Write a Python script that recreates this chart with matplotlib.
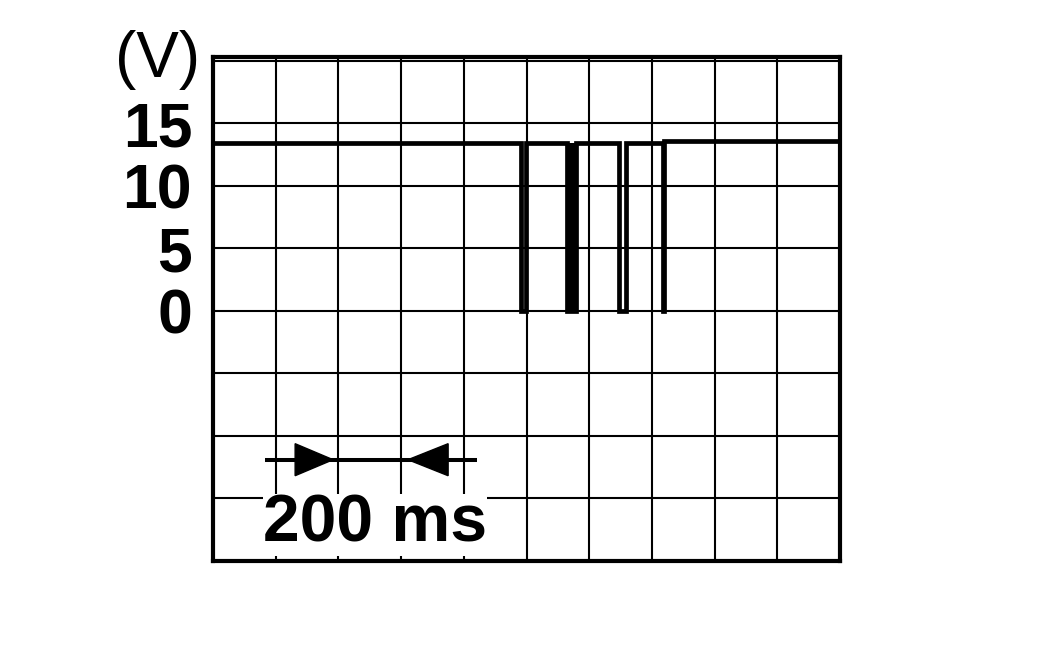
import matplotlib
matplotlib.use("Agg")
import matplotlib.pyplot as plt
import numpy as np

# ---- data ----
time_span_ms = 2000          # 10 divisions of 200 ms
level_before = 13.4          # supply level before last dip (V)
level_after = 13.6           # supply level after last dip (V)
dip_start_ms = [981, 1129, 1295, 1437]
dip_end_ms = [998, 1158, 1316, 1440]
dip_level = [0, 0, 0, 0]
dip_filled = [False, True, False, False]
ytick_values = [-20, -15, -10, -5, 0, 5, 10, 15, 20]
ytick_labels = ["", "", "", "", "0", "5", "10", "15", ""]
scale_bar_ms = [166, 842]      # horizontal bar
scale_tips_ms = [383, 622]     # arrow tips
scale_bases_ms = [262, 750]    # arrow bases
scale_bar_v = -11.9
scale_label = "200 ms"

plt.rcParams['font.family'] = ['Liberation Sans', 'DejaVu Sans']

fig = plt.figure(figsize=(10.63, 6.61), dpi=100)
W, H = 1063, 661
ax = fig.add_axes([213 / W, (H - 561) / H, 627 / W, 504 / H])
ax.set_xlim(0, time_span_ms)
ax.set_ylim(-20, 20.3)

# grid
ax.set_xticks(np.arange(0, time_span_ms + 1, 200))
ax.set_yticks(ytick_values)
ax.set_yticklabels(ytick_labels, fontsize=45, fontweight='bold')
ax.tick_params(axis='both', length=0, pad=15)
ax.tick_params(axis='x', labelbottom=False)
ax.grid(True, color='black', linewidth=1.5)
ax.set_axisbelow(True)
for s in ax.spines.values():
    s.set_linewidth(3)
    s.set_color('black')

# trace: build step waveform
t = [0]
v = [level_before]
n = len(dip_start_ms)
for i, (a, b, lv) in enumerate(zip(dip_start_ms, dip_end_ms, dip_level)):
    after = level_after if i == n - 1 else level_before
    t += [a, a, b, b]
    v += [level_before, lv, lv, after]
t.append(time_span_ms)
v.append(level_after)
ax.plot(t, v, color='black', linewidth=3.4, solid_joinstyle='miter', zorder=3)
for a, b, lv, f in zip(dip_start_ms, dip_end_ms, dip_level, dip_filled):
    if f:
        ax.fill_between([a, b], lv, level_before, color='black', linewidth=0, zorder=3)

# scale bar with arrows
ax.plot(scale_bar_ms, [scale_bar_v, scale_bar_v], color='black', linewidth=2.9, zorder=4,
        solid_capstyle='butt')
hh = 1.28
ax.fill([scale_bases_ms[0], scale_tips_ms[0], scale_bases_ms[0]],
        [scale_bar_v - hh, scale_bar_v, scale_bar_v + hh], color='black', zorder=4)
ax.fill([scale_bases_ms[1], scale_tips_ms[1], scale_bases_ms[1]],
        [scale_bar_v - hh, scale_bar_v, scale_bar_v + hh], color='black', zorder=4)
ax.text(518, -18.48, scale_label, ha='center', va='baseline', fontsize=47.5,
        fontweight='bold', zorder=5,
        bbox=dict(facecolor='white', edgecolor='none', pad=0))

# unit label
fig.text(158 / W, 1 - 77 / H, "(V)", ha='center', va='baseline', fontsize=46)

fig.savefig("out.png", dpi=100, facecolor='white')
